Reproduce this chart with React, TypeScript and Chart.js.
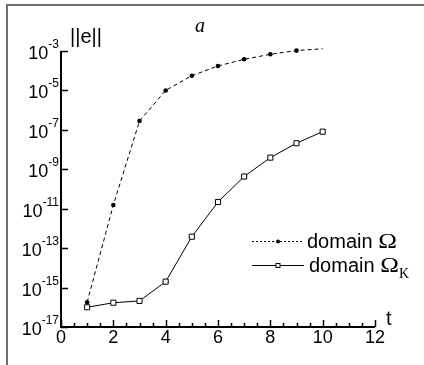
import React, { useEffect, useRef } from 'react';
import { Chart, registerables } from 'chart.js';

Chart.register(...registerables);

const tValues = [1, 2, 3, 4, 5, 6, 7, 8, 9, 10];
const errDomain = [1.8e-16, 1.55e-11, 2.8e-7, 1.0e-5, 5.6e-5, 1.74e-4, 3.8e-4, 6.8e-4, 1.05e-3, 1.3e-3];
const errDomainK = [1.0e-16, 1.7e-16, 2.1e-16, 2.0e-15, 3.8e-13, 2.2e-11, 4.3e-10, 3.9e-9, 2.1e-8, 8.1e-8];
const domainMarkerShown = [true, true, true, true, true, true, true, true, true, false];
const xTicks = [0, 2, 4, 6, 8, 10, 12];
const xMinorStep = 0.5;
const yTickExponents = [-3, -5, -7, -9, -11, -13, -15, -17];
const legendText = 'domain ';
const legendSymbol = 'Ω';
const legendSubscript = 'K';
const yTitle = '||e||';
const xTitle = 't';
const panelLabel = 'a';

const SANS = '"Liberation Sans", Arial, sans-serif';
const SERIF = '"Liberation Serif", "Times New Roman", serif';

const overlayPlugin = {
  id: 'overlay',
  afterDraw(chart: any) {
    const ctx = chart.ctx as CanvasRenderingContext2D;
    const xs = chart.scales.x;
    const ys = chart.scales.y;
    const { left, right, top, bottom } = chart.chartArea;
    ctx.save();

    // frame
    ctx.strokeStyle = '#6f6f6f';
    ctx.lineWidth = 2;
    ctx.beginPath();
    ctx.moveTo(7, 365);
    ctx.lineTo(7, 5);
    ctx.lineTo(424, 5);
    ctx.stroke();

    // axes
    ctx.strokeStyle = '#000';
    ctx.lineWidth = 2;
    ctx.beginPath();
    ctx.moveTo(left, top);
    ctx.lineTo(left, bottom);
    ctx.lineTo(right, bottom);
    ctx.stroke();

    // x ticks
    ctx.lineWidth = 1.5;
    const xmin = xTicks[0];
    const xmax = xTicks[xTicks.length - 1];
    ctx.beginPath();
    for (let v = xmin; v <= xmax + 1e-9; v += xMinorStep) {
      const px = Math.round(xs.getPixelForValue(v)) + 0.5;
      const major = xTicks.some((t) => Math.abs(t - v) < 1e-9);
      const len = major ? 7 : 4;
      ctx.moveTo(px, bottom);
      ctx.lineTo(px, bottom - len);
    }
    // y ticks
    yTickExponents.forEach((e) => {
      const py = Math.round(ys.getPixelForValue(Math.pow(10, e))) + 0.5;
      ctx.moveTo(left, py);
      ctx.lineTo(left + 7, py);
    });
    ctx.stroke();

    ctx.fillStyle = '#000';
    // x tick labels
    ctx.font = `18px ${SANS}`;
    ctx.textAlign = 'center';
    ctx.textBaseline = 'alphabetic';
    xTicks.forEach((v) => {
      ctx.fillText(String(v), xs.getPixelForValue(v), 343);
    });

    // y tick labels with superscripts
    yTickExponents.forEach((e) => {
      const py = ys.getPixelForValue(Math.pow(10, e));
      const sup = String(e);
      ctx.font = `12px ${SANS}`;
      const supW = ctx.measureText(sup).width;
      ctx.font = `18px ${SANS}`;
      const baseW = ctx.measureText('10').width;
      const rightEdge = left - 2;
      ctx.textAlign = 'left';
      ctx.fillText('10', rightEdge - supW - baseW, py + 8);
      ctx.font = `12px ${SANS}`;
      ctx.fillText(sup, rightEdge - supW, py - 3);
    });

    // axis titles
    ctx.font = `20px ${SANS}`;
    ctx.textAlign = 'left';
    ctx.fillText(yTitle, 70, 43);
    ctx.fillText(xTitle, 386, 325);
    ctx.font = `italic 20px ${SERIF}`;
    ctx.fillText(panelLabel, 195, 32);

    // legend
    const lx0 = 252;
    const lx1 = 304;
    const lmid = 278;
    const row1 = 241;
    const row2 = 265;
    ctx.lineWidth = 1;
    ctx.setLineDash([2, 2]);
    ctx.beginPath();
    ctx.moveTo(lx0, row1 + 0.5);
    ctx.lineTo(lx1, row1 + 0.5);
    ctx.stroke();
    ctx.setLineDash([]);
    ctx.beginPath();
    ctx.arc(lmid, row1 + 0.5, 2, 0, Math.PI * 2);
    ctx.fill();
    ctx.beginPath();
    ctx.moveTo(lx0, row2 + 0.5);
    ctx.lineTo(lx1, row2 + 0.5);
    ctx.stroke();
    ctx.fillStyle = '#fff';
    ctx.fillRect(lmid - 2, row2 - 1.5, 4, 4);
    ctx.strokeRect(lmid - 2, row2 - 1.5, 4, 4);
    ctx.fillStyle = '#000';

    const drawEntry = (tx: number, base: number, withSub: boolean) => {
      ctx.font = `20px ${SANS}`;
      const w = ctx.measureText(legendText).width;
      ctx.fillText(legendText, tx, base);
      ctx.font = `21px ${SERIF}`;
      const sx = 1.2;
      const ow = ctx.measureText(legendSymbol).width * sx;
      ctx.save();
      ctx.translate(tx + w, base);
      ctx.scale(sx, 1);
      ctx.fillText(legendSymbol, 0, 0);
      ctx.restore();
      if (withSub) {
        ctx.font = `14px ${SERIF}`;
        ctx.fillText(legendSubscript, tx + w + ow, base + 6);
      }
    };
    drawEntry(307, 248, false);
    drawEntry(309, 272, true);

    ctx.restore();
  },
};

export default function App() {
  const ref = useRef<HTMLCanvasElement | null>(null);
  useEffect(() => {
    if (!ref.current) return;
    const chart = new Chart(ref.current, {
      type: 'line',
      data: {
        datasets: [
          {
            label: 'domain Ω',
            data: tValues.map((t, i) => ({ x: t, y: errDomain[i] })),
            borderColor: '#000',
            borderWidth: 1,
            borderDash: [4, 3],
            pointStyle: 'circle',
            pointRadius: domainMarkerShown.map((s) => (s ? 2.3 : 0)),
            pointBackgroundColor: '#000',
            pointBorderColor: '#000',
            pointBorderWidth: 0,
            tension: 0,
            clip: false,
          },
          {
            label: 'domain ΩK',
            data: tValues.map((t, i) => ({ x: t, y: errDomainK[i] })),
            borderColor: '#000',
            borderWidth: 1,
            pointStyle: 'rect',
            pointRadius: 3.6,
            pointBackgroundColor: '#fff',
            pointBorderColor: '#000',
            pointBorderWidth: 1,
            tension: 0,
            clip: false,
          },
        ],
      },
      options: {
        responsive: false,
        animation: false,
        devicePixelRatio: 1,
        layout: { padding: { left: 61, right: 49, top: 51, bottom: 38 } },
        plugins: { legend: { display: false }, tooltip: { enabled: false } },
        scales: {
          x: { type: 'linear', min: xTicks[0], max: xTicks[xTicks.length - 1], display: false },
          y: {
            type: 'logarithmic',
            min: Math.pow(10, yTickExponents[yTickExponents.length - 1]),
            max: Math.pow(10, yTickExponents[0]),
            display: false,
          },
        },
      },
      plugins: [overlayPlugin],
    });
    return () => chart.destroy();
  }, []);
  return (
    <div style={{ position: 'absolute', left: 0, top: 0, width: 424, height: 365, background: '#fff' }}>
      <canvas ref={ref} width={424} height={365} />
    </div>
  );
}
